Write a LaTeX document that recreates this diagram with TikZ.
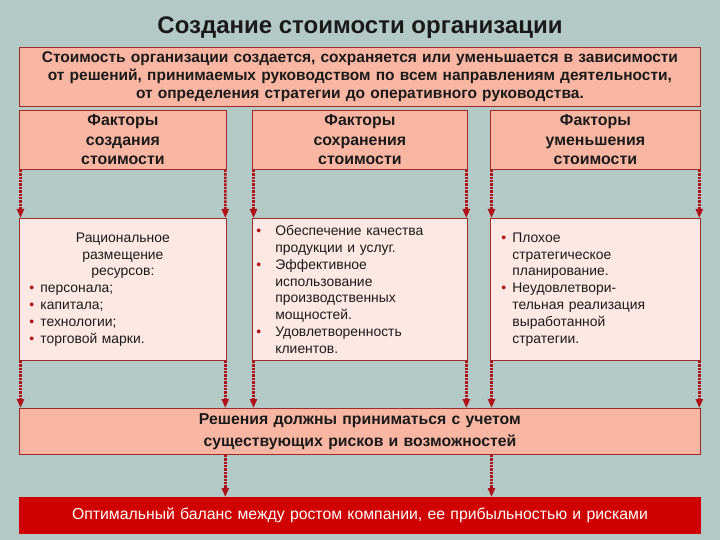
\documentclass[tikz,border=0pt]{standalone}
\usepackage{fontspec}
\setmainfont{Liberation Sans}
\usetikzlibrary{positioning,arrows.meta}

\definecolor{bgc}{HTML}{B2C9C5}
\definecolor{salmon}{HTML}{F9B6A2}
\definecolor{pale}{HTML}{FDE8E4}
\definecolor{edge}{HTML}{9E2A2B}
\definecolor{darr}{HTML}{B0101A}
\definecolor{deep}{HTML}{D10000}
\definecolor{ink}{HTML}{1A1A1A}

% bullet line and its continuation
\newcommand{\itm}[2]{\makebox[#1][l]{\textcolor{darr}{•}}#2}
\newcommand{\cnt}[2]{\hspace*{#1}#2}

\begin{document}
\begin{tikzpicture}[x=1bp, y=-1bp,
  box/.style={draw=edge, line width=0.8bp, fill=salmon, anchor=north west, inner sep=0pt,
    align=center, text=ink, font=\fontsize{15.5bp}{18bp}\selectfont\bfseries},
  card/.style={draw=edge, line width=0.8bp, fill=pale, anchor=north west, inner ysep=0pt,
    align=left, text=ink, font=\fontsize{13.9bp}{16.8bp}\selectfont},
  arr/.style={draw=darr, line width=2.4bp, densely dotted, -{Triangle[length=9bp,width=7bp]}}
]
\fill[bgc] (0,0) rectangle (720,540);
\useasboundingbox (0,0) rectangle (720,540);

\node[text=ink, font=\fontsize{24bp}{28bp}\selectfont\bfseries] (ttl) at (360,28) {Создание стоимости организации};

\node[box, text width=681bp, minimum height=59bp] (top) at (19,47)
  {Стоимость организации создается, сохраняется или уменьшается в зависимости\\
   от решений, принимаемых руководством по всем направлениям деятельности,\\
   от определения стратегии до оперативного руководства.};

\node[box, text width=207bp, minimum height=59bp, font=\fontsize{15.9bp}{19.5bp}\selectfont\bfseries] (f1) at (19,110)
  {Факторы\\создания\\стоимости};
\node[box, text width=215bp, minimum height=59bp, font=\fontsize{15.9bp}{19.5bp}\selectfont\bfseries] (f2) at (252,110)
  {Факторы\\сохранения\\стоимости};
\node[box, text width=210bp, minimum height=59bp, font=\fontsize{15.9bp}{19.5bp}\selectfont\bfseries] (f3) at (490,110)
  {Факторы\\уменьшения\\стоимости};

\node[card, inner xsep=10bp, text width=187bp, minimum height=142bp] (c1) at (19,218)
  {{\centering Рациональное\\размещение\\ресурсов:\par}
   \itm{11bp}{персонала;}\\
   \itm{11bp}{капитала;}\\
   \itm{11bp}{технологии;}\\
   \itm{11bp}{торговой марки.}};
\node[card, inner xsep=4bp, text width=207bp, minimum height=142bp] (c2) at (252,218)
  {\itm{19bp}{Обеспечение качества}\\
   \cnt{19bp}{продукции и услуг.}\\
   \itm{19bp}{Эффективное}\\
   \cnt{19bp}{использование}\\
   \cnt{19bp}{производственных}\\
   \cnt{19bp}{мощностей.}\\
   \itm{19bp}{Удовлетворенность}\\
   \cnt{19bp}{клиентов.}};
\node[card, inner xsep=11bp, text width=188bp, minimum height=142bp] (c3) at (490,218)
  {\itm{11bp}{Плохое}\\
   \cnt{11bp}{стратегическое}\\
   \cnt{11bp}{планирование.}\\
   \itm{11bp}{Неудовлетвори-}\\
   \cnt{11bp}{тельная реализация}\\
   \cnt{11bp}{выработанной}\\
   \cnt{11bp}{стратегии.}};

\node[box, text width=681bp, minimum height=46bp, font=\fontsize{15.8bp}{22bp}\selectfont\bfseries] (dec) at (19,408)
  {Решения должны приниматься с учетом\\существующих рисков и возможностей};

\node[box, draw=deep, fill=deep, text=white, text width=681bp, minimum height=36bp,
  font=\fontsize{15.8bp}{18bp}\selectfont] (res) at (19,497)
  {Оптимальный баланс между ростом компании, ее прибыльностью и рисками};

% factor boxes down to their contents
\foreach \n in {1,2,3} {
  \draw[arr] ([xshift=1.5bp]f\n.south west) -- ([xshift=1.5bp]c\n.north west);
  \draw[arr] ([xshift=-1.5bp]f\n.south east) -- ([xshift=-1.5bp]c\n.north east);
  \draw[arr] ([xshift=1.5bp]c\n.south west) -- ([xshift=1.5bp]c\n.south west |- dec.north);
  \draw[arr] ([xshift=-1.5bp]c\n.south east) -- ([xshift=-1.5bp]c\n.south east |- dec.north);
}
\draw[arr] ([xshift=-1.5bp]c1.south east |- dec.south) -- ([xshift=-1.5bp]c1.south east |- res.north);
\draw[arr] ([xshift=1.5bp]c3.south west |- dec.south) -- ([xshift=1.5bp]c3.south west |- res.north);
\end{tikzpicture}
\end{document}
